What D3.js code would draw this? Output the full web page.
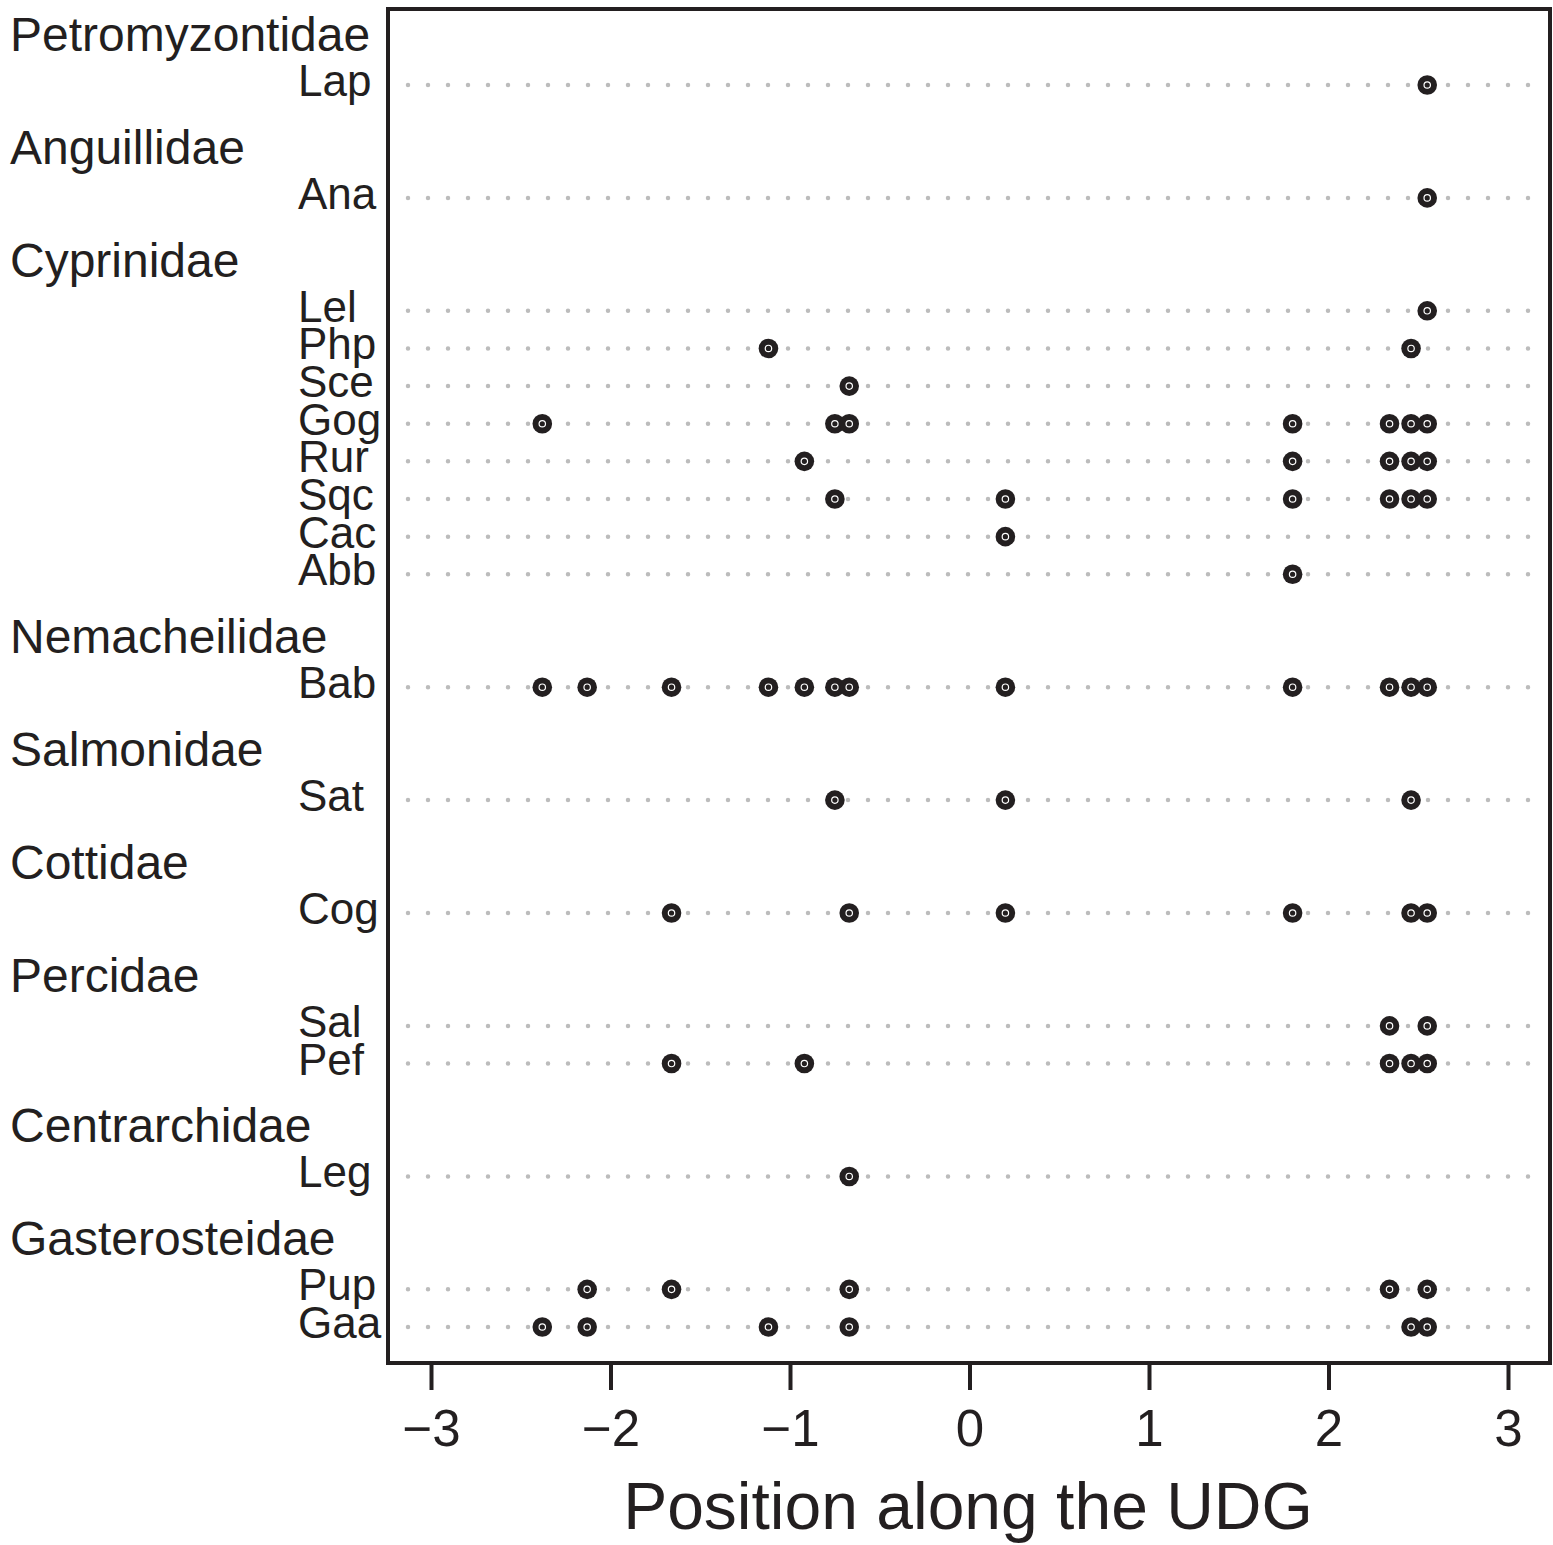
<!DOCTYPE html>
<html>
<head>
<meta charset="utf-8">
<script src="https://cdn.jsdelivr.net/npm/d3@7"></script>
<style>
  body { margin: 0; background: #fff; }
  text { font-family: "Liberation Sans", Arial, sans-serif; fill: #231f20; }
</style>
</head>
<body>
<svg id="chart"></svg>
<script>
"use strict";

// Families, top to bottom, with their species codes
const families = [
  "Petromyzontidae", "Anguillidae", "Cyprinidae", "Nemacheilidae",
  "Salmonidae", "Cottidae", "Percidae", "Centrarchidae", "Gasterosteidae"
];
const speciesByFamily = [
  ["Lap"],
  ["Ana"],
  ["Lel", "Php", "Sce", "Gog", "Rur", "Sqc", "Cac", "Abb"],
  ["Bab"],
  ["Sat"],
  ["Cog"],
  ["Sal", "Pef"],
  ["Leg"],
  ["Pup", "Gaa"]
];

// Positions along the UDG where each species was found
const positions = {
  Lap: [2.55],
  Ana: [2.55],
  Lel: [2.55],
  Php: [-1.12, 2.46],
  Sce: [-0.67],
  Gog: [-2.38, -0.75, -0.67, 1.80, 2.34, 2.46, 2.55],
  Rur: [-0.92, 1.80, 2.34, 2.46, 2.55],
  Sqc: [-0.75, 0.20, 1.80, 2.34, 2.46, 2.55],
  Cac: [0.20],
  Abb: [1.80],
  Bab: [-2.38, -2.13, -1.66, -1.12, -0.92, -0.75, -0.67, 0.20, 1.80, 2.34, 2.46, 2.55],
  Sat: [-0.75, 0.20, 2.46],
  Cog: [-1.66, -0.67, 0.20, 1.80, 2.46, 2.55],
  Sal: [2.34, 2.55],
  Pef: [-1.66, -0.92, 2.34, 2.46, 2.55],
  Leg: [-0.67],
  Pup: [-2.13, -1.66, -0.67, 2.34, 2.55],
  Gaa: [-2.38, -2.13, -1.12, -0.67, 2.46, 2.55]
};

const xTicks = [-3, -2, -1, 0, 1, 2, 3];
const xTitle = "Position along the UDG";

const w = 1553;
const h = 1545;
const box = { left: 388, right: 1550, top: 9, bottom: 1363 };
const ink = "#231f20";

const svg = d3.select("#chart").attr("width", w).attr("height", h);

// row layout like R's dotchart: bottom row is index 0,
// each family gets its species rows plus two empty rows for the header
const rows = [];
const headers = [];
let idx = 0;
for (let f = families.length - 1; f >= 0; f--) {
  const sp = speciesByFamily[f];
  for (let s = sp.length - 1; s >= 0; s--) {
    rows.push({ code: sp[s], idx: idx });
    idx++;
  }
  headers.push({ name: families[f], idx: idx - 1 });
  idx += 2;
}

const xScale = d3.scaleLinear().domain([-3, 3]).range([431, 1508]);
const yScale = d3.scaleLinear().domain([0, 33]).range([1327, 85]);

// dotted guide lines
svg.append("g")
  .selectAll("line")
  .data(rows)
  .join("line")
  .attr("x1", 408)
  .attr("x2", box.right - 6)
  .attr("y1", (d) => yScale(d.idx))
  .attr("y2", (d) => yScale(d.idx))
  .attr("stroke", "#bcbcbc")
  .attr("stroke-width", 4.5)
  .attr("stroke-linecap", "round")
  .attr("stroke-dasharray", "0 20");

// points
const pts = [];
rows.forEach((r) => positions[r.code].forEach((v) => pts.push({ idx: r.idx, v: v })));

const pg = svg.append("g");
pg.selectAll("circle.outer")
  .data(pts)
  .join("circle")
  .attr("class", "outer")
  .attr("cx", (d) => xScale(d.v))
  .attr("cy", (d) => yScale(d.idx))
  .attr("r", 9.8)
  .attr("fill", ink);
pg.selectAll("circle.inner")
  .data(pts)
  .join("circle")
  .attr("class", "inner")
  .attr("cx", (d) => xScale(d.v))
  .attr("cy", (d) => yScale(d.idx))
  .attr("r", 3.2)
  .attr("fill", "none")
  .attr("stroke", "#fff")
  .attr("stroke-width", 1.2);

// box
svg.append("rect")
  .attr("x", box.left)
  .attr("y", box.top)
  .attr("width", box.right - box.left)
  .attr("height", box.bottom - box.top)
  .attr("fill", "none")
  .attr("stroke", ink)
  .attr("stroke-width", 4);

// x axis
const xAxis = d3.axisBottom(xScale)
  .tickValues(xTicks)
  .tickSize(27)
  .tickPadding(20)
  .tickFormat((d) => (d < 0 ? "\u2212" + Math.abs(d) : String(d)));

const ax = svg.append("g")
  .attr("transform", `translate(0, ${box.bottom})`)
  .call(xAxis);
ax.select(".domain").remove();
ax.selectAll(".tick line").attr("stroke", ink).attr("stroke-width", 4);
ax.selectAll(".tick text")
  .attr("fill", ink)
  .style("font-family", "'Liberation Sans', Arial, sans-serif")
  .style("font-size", "51px");

svg.append("text")
  .attr("x", 968)
  .attr("y", 1529)
  .attr("text-anchor", "middle")
  .style("font-size", "66px")
  .text(xTitle);

// species labels
svg.append("g")
  .selectAll("text")
  .data(rows)
  .join("text")
  .attr("x", 298)
  .attr("y", (d) => yScale(d.idx) + 11)
  .style("font-size", "44px")
  .text((d) => d.code);

// family labels
svg.append("g")
  .selectAll("text")
  .data(headers)
  .join("text")
  .attr("x", 10)
  .attr("y", (d) => yScale(d.idx) - 34)
  .style("font-size", "48px")
  .text((d) => d.name);
</script>
</body>
</html>
